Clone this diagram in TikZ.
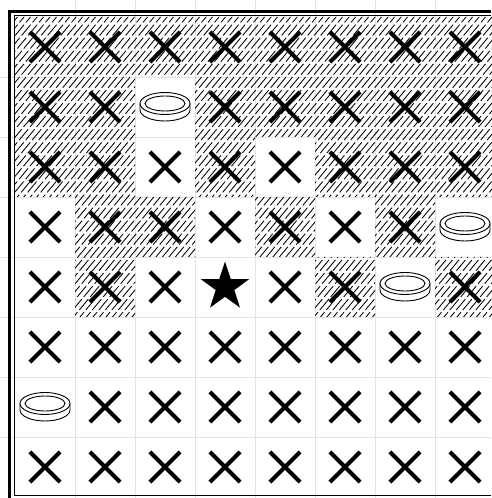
\documentclass[tikz,border=0pt]{standalone}
\usepackage{tikz}
\usetikzlibrary{shapes.geometric,shapes.misc}

\begin{document}
\begin{tikzpicture}[
  x=1pt,y=1pt,
  gridline/.style={draw=gray!22,line width=0.6pt},
  hatch/.style={line width=0.85pt,dash pattern=on 14pt off 3pt},
  frame/.style={line width=3.6pt},
  innerframe/.style={line width=1pt},
  cross/.style={
    draw,
    cross out,
    minimum size=26pt,
    inner sep=0pt,
    line width=4.2pt
  },
  goal/.style={
    star,
    star points=5,
    star point ratio=2.6,
    fill=black,
    minimum size=51pt,
    inner sep=0pt
  },
  coin/.pic={
    \filldraw[fill=white,line width=0.9pt] (-25,3.5) -- (-25,-3)
      arc[start angle=180,end angle=360,x radius=25,y radius=11] -- (25,3.5)
      arc[start angle=0,end angle=180,x radius=25,y radius=11] -- cycle;
    \draw[line width=0.9pt] (-25,3.5) arc[start angle=180,end angle=360,x radius=25,y radius=11];
    \draw[line width=0.9pt] (0,3.5) ellipse[x radius=20,y radius=7.5];
  }
]
\useasboundingbox (0,0) rectangle (491,498);

% faint grid
\foreach \k in {1,...,7} {
  \draw[gridline] ({60*\k+15},0) -- ({60*\k+15},498);
  \draw[gridline] (0,{481-60*\k}) -- (491,{481-60*\k});
}

% hatched cells
\begin{scope}
  \clip \foreach \c/\r in {1/1,2/1,3/1,4/1,5/1,6/1,7/1,8/1,
                           1/2,2/2,4/2,5/2,6/2,7/2,8/2,
                           1/3,2/3,4/3,6/3,7/3,8/3,
                           2/4,3/4,5/4,7/4,
                           2/5,6/5,8/5}
    {({60*\c-45},{541-60*\r}) rectangle ++(60,-60)};
  \foreach \k in {-380,-373.5,...,500}
    \draw[hatch] (\k,175) -- ++(262,315);
\end{scope}

% board border
\draw[frame] (9.5,0) -- (9.5,486.5) -- (491,486.5);
\draw[innerframe] (491,2) -- (14.5,2) -- (14.5,482) -- (491,482);

% marks
\foreach \r/\cols in {1/{1,2,3,4,5,6,7,8},2/{1,2,4,5,6,7,8},3/{1,2,3,4,5,6,7,8},
                      4/{1,2,3,4,5,6,7},5/{1,2,3,5,6,8},6/{1,2,3,4,5,6,7,8},
                      7/{2,3,4,5,6,7,8},8/{1,2,3,4,5,6,7,8}}
  \foreach \c in \cols
    \node[cross] (x-\c-\r) at ({60*\c-15},{511-60*\r}) {};

\pic (coin-3-2) at (165,391) {coin};
\pic (coin-8-4) at (465,271) {coin};
\pic (coin-7-5) at (405,211) {coin};
\pic (coin-1-7) at (45,91) {coin};

\node[goal] (goal) at (225,211) {};
\end{tikzpicture}
\end{document}
